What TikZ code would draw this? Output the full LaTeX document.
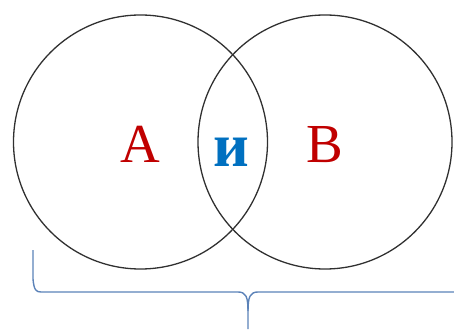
\documentclass[tikz,border=0pt]{standalone}
\usepackage{fontspec}
\setmainfont{Liberation Serif}
\definecolor{setred}{HTML}{C00000}
\definecolor{setblue}{HTML}{0070C0}
\definecolor{bracecol}{HTML}{5B82B8}
\definecolor{ringcol}{HTML}{303030}
\begin{document}
\begin{tikzpicture}[x=1pt,y=1pt,
  ring/.style={circle,draw=ringcol,line width=1.3pt,minimum size=254pt,inner sep=0pt},
  setlabel/.style={text=setred,font=\fontsize{55}{55}\selectfont,anchor=base,inner sep=0pt},
  mid/.style={text=setblue,font=\fontsize{62}{62}\selectfont\bfseries,anchor=base,inner sep=0pt},
  bracepath/.style={draw=bracecol,line width=1.4pt}]
\useasboundingbox (0,0) rectangle (454,329);
\node[ring] (cA) at (140.5,187) {};
\node[ring] (cB) at (325,187) {};
\node[setlabel] (lA) at (140.5,166) {A};
\node[setlabel] (lB) at (325,166) {B};
\node[mid] (lI) at (231.5,162) {и};
\coordinate (bl) at (33,79);
\coordinate (bt) at (248,0);
\coordinate (br) at (454,37);
\draw[bracepath] (bl) -- (33,50) .. controls (34,39) and (36,37) .. (41,37)
  -- (238,37) .. controls (246,37) and (248,32) .. (248,18) -- (bt);
\draw[bracepath] (br) -- (258,37) .. controls (250,37) and (248,32) .. (248,18);
\end{tikzpicture}
\end{document}
